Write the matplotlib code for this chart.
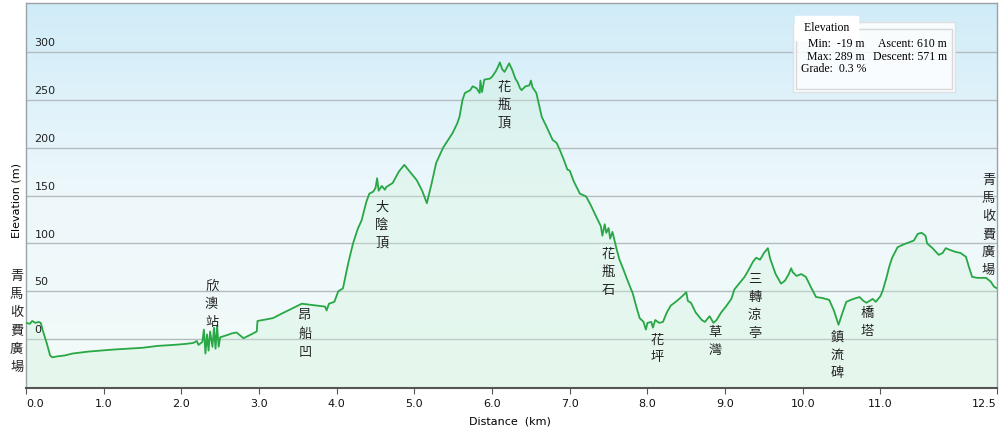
import numpy as np
import matplotlib
matplotlib.use("Agg")
import matplotlib.pyplot as plt
from matplotlib.patches import Rectangle
from matplotlib.colors import LinearSegmentedColormap

# elevation profile (km, m)
dist = [0.00, 0.05, 0.08, 0.12, 0.16, 0.19, 0.22, 0.27, 0.31, 0.34, 0.40, 0.50, 0.60, 0.70, 0.80,
        0.95, 1.10, 1.30, 1.50, 1.70, 1.90, 2.05, 2.15, 2.20, 2.22, 2.27, 2.29, 2.31, 2.33, 2.35,
        2.37, 2.40, 2.42, 2.44, 2.46, 2.48, 2.50, 2.58, 2.65, 2.71, 2.80, 2.90, 2.97, 2.98, 3.05,
        3.18, 3.30, 3.45, 3.55, 3.65, 3.75, 3.85, 3.87, 3.90, 3.97, 4.02, 4.08, 4.15, 4.21, 4.27,
        4.32, 4.38, 4.42, 4.47, 4.50, 4.52, 4.54, 4.58, 4.62, 4.64, 4.72, 4.80, 4.87, 4.95, 5.03,
        5.10, 5.16, 5.22, 5.28, 5.33, 5.37, 5.45, 5.49, 5.55, 5.58, 5.62, 5.65, 5.72, 5.75, 5.80,
        5.84, 5.85, 5.87, 5.90, 5.97, 6.00, 6.05, 6.08, 6.10, 6.13, 6.16, 6.22, 6.26, 6.30, 6.33,
        6.36, 6.38, 6.43, 6.48, 6.50, 6.52, 6.57, 6.64, 6.70, 6.78, 6.83, 6.87, 6.92, 6.97, 7.00,
        7.05, 7.13, 7.21, 7.27, 7.34, 7.40, 7.42, 7.45, 7.47, 7.50, 7.52, 7.55, 7.60, 7.64, 7.68,
        7.75, 7.81, 7.86, 7.90, 7.95, 7.98, 8.00, 8.05, 8.07, 8.10, 8.15, 8.20, 8.25, 8.30, 8.38,
        8.45, 8.50, 8.52, 8.56, 8.62, 8.70, 8.74, 8.80, 8.85, 8.89, 8.95, 9.01, 9.08, 9.12, 9.18,
        9.25, 9.30, 9.36, 9.40, 9.45, 9.50, 9.55, 9.58, 9.65, 9.72, 9.77, 9.82, 9.85, 9.87, 9.92,
        9.98, 10.04, 10.10, 10.17, 10.25, 10.34, 10.40, 10.44, 10.46, 10.50, 10.56, 10.65, 10.73, 10.78, 10.82,
        10.90, 10.94, 11.00, 11.03, 11.08, 11.11, 11.15, 11.22, 11.30, 11.43, 11.48, 11.53, 11.58, 11.60, 11.67,
        11.75, 11.80, 11.84, 11.90, 11.97, 12.03, 12.10, 12.14, 12.18, 12.25, 12.36, 12.42, 12.46, 12.50]
elev = [17, 16, 19, 17, 18, 17, 8, -5, -17, -19, -18, -17, -15, -14, -13,
        -12, -11, -10, -9, -7, -6, -5, -4, -2, -6, -3, 10, -15, 5, -12,
        8, -8, 12, -10, 14, -8, 2, 4, 6, 7, 1, 5, 8, 19, 20,
        22, 27, 33, 37, 36, 35, 34, 30, 37, 39, 50, 53, 80, 100, 115,
        124, 143, 152, 154, 158, 168, 155, 160, 156, 159, 163, 175, 182, 174, 166,
        155, 142, 162, 184, 193, 200, 210, 215, 225, 232, 250, 257, 260, 264, 262,
        257, 270, 258, 271, 272, 274, 280, 285, 289, 282, 279, 288, 281, 272, 268,
        262, 260, 264, 265, 270, 263, 257, 232, 222, 208, 205, 198, 188, 177, 176,
        165, 152, 149, 140, 128, 118, 108, 120, 111, 116, 105, 112, 95, 83, 75,
        60, 48, 33, 22, 18, 10, 17, 18, 12, 20, 17, 18, 28, 35, 40,
        45, 49, 40, 38, 28, 20, 18, 24, 17, 20, 28, 34, 42, 52, 58,
        65, 72, 81, 85, 83, 90, 95, 84, 68, 58, 61, 68, 74, 70, 66,
        68, 65, 55, 44, 43, 41, 30, 20, 15, 25, 39, 42, 44, 40, 38,
        42, 39, 45, 51, 65, 75, 85, 96, 99, 103, 110, 111, 108, 100, 95,
        88, 90, 95, 93, 91, 90, 86, 75, 65, 64, 64, 60, 55, 53]

# place names (text, km, elevation of top character)
places = ["青馬收費廣場", "欣澳站", "昂船凹", "大陰頂", "花瓶頂", "花瓶石", "花坪",
          "草灣", "三轉涼亭", "鎮流碑", "橋塔", "青馬收費廣場"]
place_km = [-0.12, 2.39, 3.59, 4.58, 6.16, 7.49, 8.12, 8.87, 9.38, 10.44, 10.83, 12.39]
place_top = [72, 62, 31, 145, 270, 95, 6, 14, 69, 9, 34, 173]

xticks = [0, 1, 2, 3, 4, 5, 6, 7, 8, 9, 10, 11, 12.5]
yticks = [0, 50, 100, 150, 200, 250, 300]

W, H = 1002, 434
fig = plt.figure(figsize=(W / 100, H / 100), dpi=100)
fig.patch.set_facecolor("white")
ax = fig.add_axes([26 / W, 46 / H, 971 / W, 385 / H])
ax.set_xlim(0, 12.5)
ax.set_ylim(-51, 351)

# background gradient
bg = LinearSegmentedColormap.from_list("bg", ["#f2fbf7", "#eef8fc", "#d0ecf8"])
grad = np.linspace(0, 1, 256).reshape(-1, 1)
ax.imshow(grad, cmap=bg, aspect="auto", extent=[0, 12.5, -51, 351], origin="lower", zorder=0)

for y in yticks:
    ax.axhline(y, color="#b4bcc2", lw=1, zorder=1)
    ax.text(0.11, y + 4, str(y), fontsize=8, color="#222222", ha="left", va="bottom", zorder=5)

ax.fill_between(dist, elev, -51, color="#cdf2d8", alpha=0.32, lw=0, zorder=2)
ax.plot(dist, elev, color="#28a745", lw=1.3, zorder=3)

ax.set_yticks([])
ax.set_xticks(xticks)
ax.set_xticklabels([])
ax.tick_params(axis="x", direction="out", length=4, color="#555555")
for i, t in enumerate(xticks):
    ha = "left" if i == 0 else ("right" if i == len(xticks) - 1 else "center")
    ax.annotate("%.1f" % t, (t, -51), xytext=(0, -8), textcoords="offset points",
                ha=ha, va="top", fontsize=8, color="#111111", annotation_clip=False)

for s in ["left", "right", "top"]:
    ax.spines[s].set_color("#9aa2a8")
    ax.spines[s].set_linewidth(1)
ax.spines["bottom"].set_color("#555555")
ax.spines["bottom"].set_linewidth(1.5)

fig.text(17 / W, 1 - 200 / H, "Elevation (m)", rotation=90, fontsize=8, ha="center", va="center")
fig.text(510 / W, 1 - 422 / H, "Distance  (km)", fontsize=8, ha="center", va="center")

cjk = ["Noto Sans CJK TC", "DejaVu Sans"]
for name, km, top in zip(places, place_km, place_top):
    for j, ch in enumerate(name):
        ax.annotate(ch, (km, top), xytext=(0, -j * 13), textcoords="offset points",
                    ha="center", va="top", fontsize=9.5, family=cjk, color="#222222",
                    annotation_clip=False, zorder=6)

# elevation summary box
def fx(px):
    return px / W


def fy(py):
    return 1 - py / H


fig.patches.append(Rectangle((fx(793), fy(92)), (955 - 793) / W, 70 / H, transform=fig.transFigure,
                             facecolor="white", alpha=0.85, edgecolor="#dddddd", lw=1, zorder=10))
fig.patches.append(Rectangle((fx(796), fy(89)), (952 - 796) / W, 60 / H, transform=fig.transFigure,
                             facecolor="none", edgecolor="#d8d8d8", lw=1, zorder=11))
serif = "Liberation Serif"
fig.text(fx(801), fy(28), " Elevation ", fontsize=8.5, family=serif, va="center", ha="left",
         backgroundcolor="white", zorder=12)
fig.text(fx(865), fy(44), "Min:  -19 m", fontsize=8.5, family=serif, va="center", ha="right", zorder=12)
fig.text(fx(947), fy(44), "Ascent: 610 m", fontsize=8.5, family=serif, va="center", ha="right", zorder=12)
fig.text(fx(865), fy(57), "Max: 289 m", fontsize=8.5, family=serif, va="center", ha="right", zorder=12)
fig.text(fx(947), fy(57), "Descent: 571 m", fontsize=8.5, family=serif, va="center", ha="right", zorder=12)
fig.text(fx(801), fy(69), "Grade:  0.3 %", fontsize=8.5, family=serif, va="center", ha="left", zorder=12)

fig.savefig("out.png", dpi=100)
